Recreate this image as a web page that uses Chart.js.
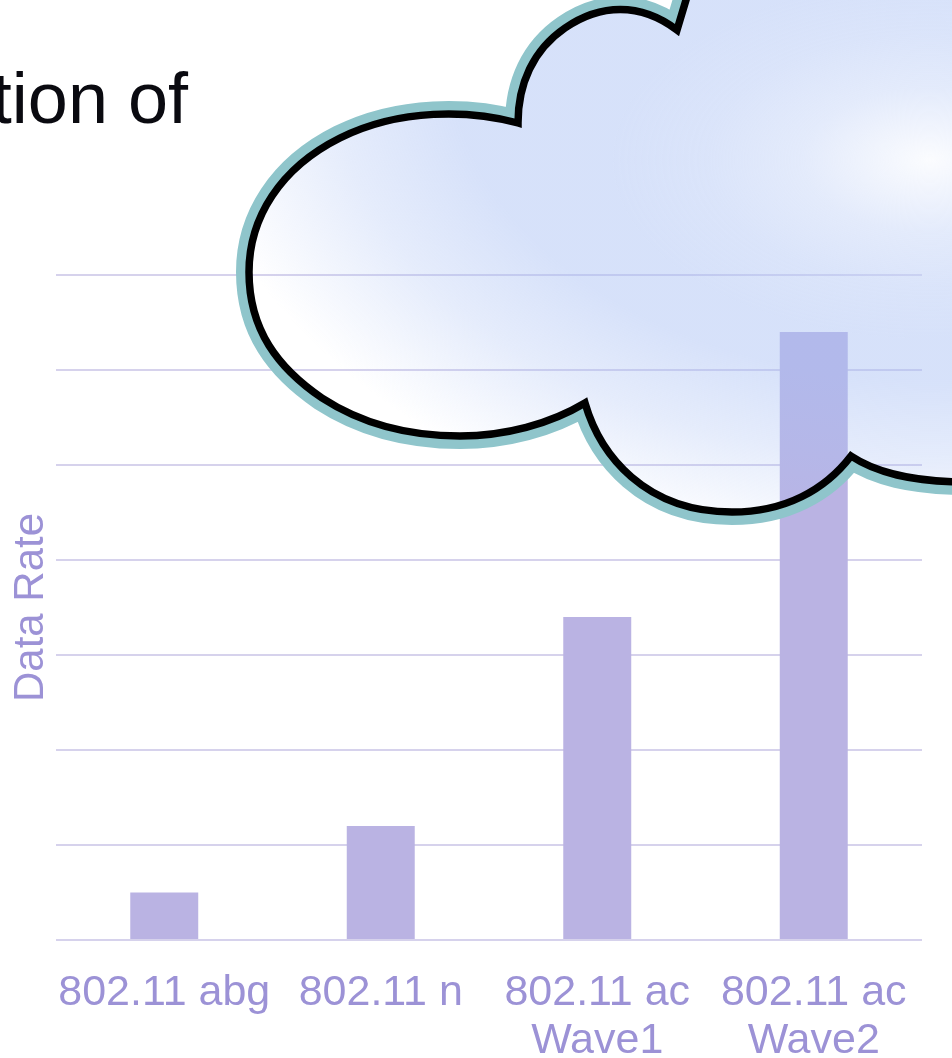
<!DOCTYPE html>
<html>
<head>
<meta charset="utf-8">
<script src="https://cdn.jsdelivr.net/npm/chart.js@4"></script>
<style>
  html, body { margin: 0; background: #fff; overflow: hidden; }
  #wrap { position: relative; width: 952px; height: 1058px; overflow: hidden; }
  #chart { position: absolute; left: 0; top: 0; }
  #heading {
    position: absolute; right: 764px; top: 57px; white-space: nowrap;
    font: 72px "Liberation Sans", Arial, sans-serif; color: #0a0a10;
  }
</style>
</head>
<body>
<div id="wrap">
  <canvas id="chart" width="952" height="1058"></canvas>
  <div id="heading">Evolution of</div>
</div>
<script>
const categories = ["802.11 abg", "802.11 n", ["802.11 ac", "Wave1"], ["802.11 ac", "Wave2"]];
const dataRate = [0.5, 1.2, 3.4, 6.4];
const axisMax = 7;

const labelColor = "#9c92d6";
const barColor = "#bab3e3";
const gridColor = "#d6d2ec";
const font = "Liberation Sans, Arial, sans-serif";

// outline of the cloud, right side runs off the canvas
function cloudPath(ctx) {
  ctx.beginPath();
  ctx.moveTo(692, -20);
  ctx.lineTo(677, 30);
  ctx.bezierCurveTo(640, 2, 600, 4, 565, 28);
  ctx.bezierCurveTo(533, 50, 518, 84, 518, 123);
  ctx.bezierCurveTo(470, 110, 400, 108, 340, 138);
  ctx.bezierCurveTo(280, 168, 249, 218, 249, 272);
  ctx.bezierCurveTo(249, 330, 278, 368, 322, 398);
  ctx.bezierCurveTo(365, 426, 415, 436, 460, 436);
  ctx.bezierCurveTo(505, 436, 550, 424, 585, 403);
  ctx.bezierCurveTo(600, 455, 645, 512, 732, 512);
  ctx.bezierCurveTo(785, 512, 825, 490, 851, 456);
  ctx.bezierCurveTo(875, 472, 910, 482, 970, 482);
  ctx.lineTo(1010, 482);
  ctx.lineTo(1010, -20);
  ctx.closePath();
}

const cloudPlugin = {
  id: "cloud",
  afterDraw(chart) {
    const ctx = chart.ctx;
    ctx.save();

    // teal rim, outside of the outline only
    ctx.save();
    cloudPath(ctx);
    ctx.rect(1100, -100, -1300, 1300);
    ctx.clip("evenodd");
    cloudPath(ctx);
    ctx.strokeStyle = "#8fc5cb";
    ctx.lineWidth = 26;
    ctx.lineJoin = "miter";
    ctx.stroke();
    ctx.restore();

    // translucent elliptical fill
    ctx.save();
    cloudPath(ctx);
    ctx.clip();
    ctx.save();
    ctx.translate(930, 60);
    ctx.scale(720, 480);
    const g = ctx.createRadialGradient(0, 0, 0, 0, 0, 1.04);
    g.addColorStop(0, "rgba(169,192,244,0.47)");
    g.addColorStop(0.64, "rgba(169,192,244,0.47)");
    g.addColorStop(0.8, "rgba(169,192,244,0.3)");
    g.addColorStop(0.92, "rgba(169,192,244,0.12)");
    g.addColorStop(1, "rgba(169,192,244,0)");
    ctx.fillStyle = g;
    ctx.fillRect(-2, -2, 4, 4);
    ctx.restore();

    // bright spot top right
    ctx.translate(930, 160);
    ctx.scale(320, 180);
    const spot = ctx.createRadialGradient(0, 0, 0, 0, 0, 1);
    spot.addColorStop(0, "rgba(255,255,255,0.9)");
    spot.addColorStop(0.15, "rgba(255,255,255,0.68)");
    spot.addColorStop(0.4, "rgba(255,255,255,0.32)");
    spot.addColorStop(0.7, "rgba(255,255,255,0.1)");
    spot.addColorStop(1, "rgba(255,255,255,0)");
    ctx.fillStyle = spot;
    ctx.fillRect(-2, -2, 4, 4);
    ctx.restore();

    cloudPath(ctx);
    ctx.strokeStyle = "#000";
    ctx.lineWidth = 7.5;
    ctx.lineJoin = "miter";
    ctx.miterLimit = 10;
    ctx.stroke();
    ctx.restore();
  }
};

new Chart(document.getElementById("chart"), {
  type: "bar",
  data: {
    labels: categories,
    datasets: [{
      label: "Data Rate",
      data: dataRate,
      backgroundColor: barColor,
      barPercentage: 0.314,
      categoryPercentage: 1
    }]
  },
  options: {
    responsive: false,
    animation: false,
    layout: { padding: { top: 275, right: 30, left: 0, bottom: 0 } },
    plugins: { legend: { display: false }, tooltip: { enabled: false } },
    scales: {
      x: {
        grid: { display: false },
        border: { display: false },
        ticks: {
          color: labelColor,
          font: { family: font, size: 43, lineHeight: 1.12 },
          padding: 21,
          maxRotation: 0,
          autoSkip: false
        },
        afterFit(scale) { scale.height = 118; }
      },
      y: {
        min: 0,
        max: axisMax,
        grid: { color: gridColor, lineWidth: 2, drawTicks: false },
        border: { display: false },
        ticks: { display: false, stepSize: 1 },
        title: {
          display: true,
          text: "Data Rate",
          color: labelColor,
          font: { family: font, size: 42 },
          padding: { top: 6, bottom: 0 }
        },
        afterFit(scale) { scale.width = 56; }
      }
    }
  },
  plugins: [cloudPlugin]
});
</script>
</body>
</html>
